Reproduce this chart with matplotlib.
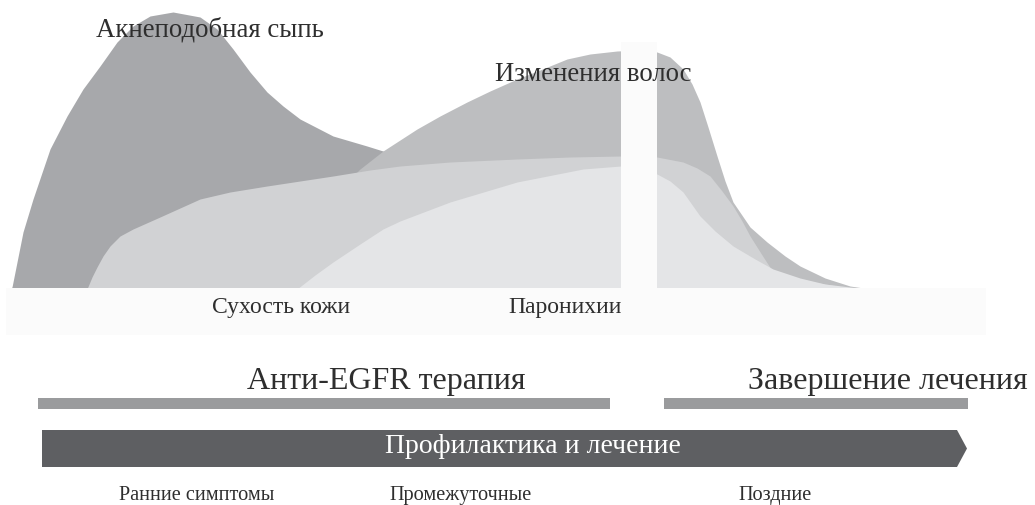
import numpy as np
import matplotlib
matplotlib.use("Agg")
import matplotlib.pyplot as plt
from matplotlib.patches import Polygon, Rectangle

plt.rcParams['font.family'] = ['Liberation Serif', 'DejaVu Serif']

# time axis (px-like units) and severity (height above the baseline)
acne_x = [10, 12, 23, 33, 50, 67, 83, 100, 117, 133, 150, 173, 200, 217, 233, 250, 267,
          283, 300, 333, 367, 383, 420, 480, 540, 600, 630]
acne_y = [0, 2, 57, 90, 140, 173, 200, 223, 247, 263, 273, 277, 272, 260, 240, 217, 197,
          183, 170, 153, 143, 138, 125, 100, 70, 30, 0]

hair_x = [270, 300, 330, 360, 383, 417, 440, 467, 490, 517, 540, 567, 590, 617, 640, 657, 670,
          683, 692, 700, 708, 717, 725, 733, 750, 767, 785, 800, 825, 850, 870]
hair_y = [0, 50, 90, 120, 138, 160, 173, 187, 198, 210, 219, 230, 235, 238, 239, 237, 232,
          220, 205, 187, 162, 133, 108, 87, 62, 47, 33, 23, 11, 3, 0]

dry_x = [87, 92, 97, 103, 110, 120, 133, 160, 200, 230, 267, 300, 333, 370, 400, 450, 517, 570,
         621, 657, 683, 697, 710, 722, 733, 742, 750, 762, 773, 800, 850, 860]
dry_y = [0, 12, 22, 33, 43, 53, 60, 72, 90, 97, 103, 108, 113, 119, 123, 127, 130, 132,
         133, 132, 127, 121, 113, 98, 83, 68, 53, 34, 17, 9, 1, 0]

paro_x = [297, 315, 333, 360, 383, 400, 450, 517, 583, 621, 657, 670, 683, 700, 715, 733,
          755, 773, 800, 825, 850, 870]
paro_y = [0, 14, 27, 45, 60, 68, 87, 107, 120, 123, 115, 108, 97, 73, 58, 43,
          30, 20, 11, 5, 2, 0]

areas = [
    (acne_x, acne_y, '#a7a8ab'),
    (hair_x, hair_y, '#bdbec0'),
    (dry_x, dry_y, '#d1d2d4'),
    (paro_x, paro_y, '#e4e5e7'),
]

top_labels = ['Акнеподобная сыпь', 'Изменения волос']
band_labels = ['Сухость кожи', 'Паронихии']
phase_labels = ['Анти-EGFR терапия', 'Завершение лечения']
phase_start = [38, 664]
phase_end = [610, 968]
arrow_label = 'Профилактика и лечение'
stage_labels = ['Ранние симптомы', 'Промежуточные', 'Поздние']

W, H = 1035, 506
fig = plt.figure(figsize=(W / 100, H / 100), dpi=100)
fig.patch.set_facecolor('white')

# area chart axes: baseline at y=290 px
base = 290
ax = fig.add_axes([0, (H - base) / H, 1, base / H])
ax.set_xlim(0, W)
ax.set_ylim(0, base)
ax.axis('off')

for xs, ys, c in areas:
    ax.fill_between(xs, 0, ys, color=c, lw=0)
ax.fill_between([621, 657], 0, base - 43, color='#fbfbfb', lw=0)

# layout axes in pixel coords, drawn on top
lay = fig.add_axes([0, 0, 1, 1])
lay.set_xlim(0, W)
lay.set_ylim(H, 0)
lay.axis('off')
lay.patch.set_visible(False)
lay.set_zorder(2)

# light band under the chart
lay.add_patch(Rectangle((6, 289), 980, 47, color='#fbfbfb', lw=0))

txt = '#2e2e2e'
lay.text(210, 30, top_labels[0], fontsize=19.3, color=txt, ha='center', va='center')
lay.text(593, 74, top_labels[1], fontsize=19.3, color=txt, ha='center', va='center')
lay.text(281, 308, band_labels[0], fontsize=17, color=txt, ha='center', va='center')
lay.text(565, 308, band_labels[1], fontsize=17, color=txt, ha='center', va='center')

# phase bars
for s, e in zip(phase_start, phase_end):
    lay.barh(404.5, e - s, left=s, height=11, color='#9a9b9d', lw=0)
lay.text(386, 382, phase_labels[0], fontsize=23, color=txt, ha='center', va='center')
lay.text(888, 382, phase_labels[1], fontsize=23, color=txt, ha='center', va='center')

# arrow
lay.add_patch(Polygon([(42, 431), (957, 431), (967, 449.5), (957, 468), (42, 468)],
                      closed=True, color='#5e5f62', lw=0))
lay.text(533, 447, arrow_label, fontsize=20, color='white', ha='center', va='center')

for x, s in zip([197, 461, 775], stage_labels):
    lay.text(x, 496, s, fontsize=14.6, color=txt, ha='center', va='center')

fig.savefig('out.png', dpi=100, facecolor='white')
